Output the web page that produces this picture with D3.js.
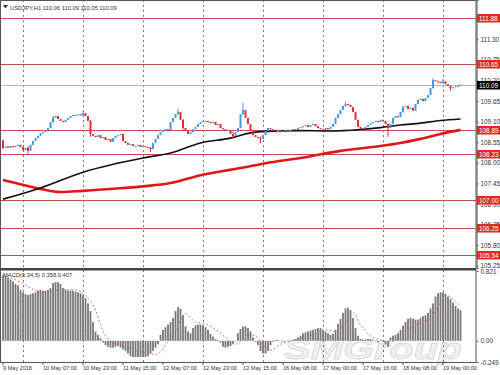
<!DOCTYPE html>
<html>
<head>
<meta charset="utf-8">
<script src="https://cdn.jsdelivr.net/npm/d3@7"></script>
<style>
  body { margin: 0; background: #fff; }
  svg { display: block; font-family: "Liberation Sans", Arial, sans-serif; }
</style>
</head>
<body>
<svg id="chart" width="500" height="375"></svg>
<script>
// USDJPY H1 closes, one per bar (open = previous close)
const firstOpen = 108.60;
const closes = [
  108.40,108.44,108.40,108.45,108.42,108.45,108.48,108.42,108.34,108.40,
  108.32,108.48,108.58,108.66,108.72,108.80,108.82,108.85,108.93,109.09,
  109.20,109.25,109.17,109.12,109.09,109.15,109.20,109.25,109.28,109.28,
  109.30,109.28,109.33,109.25,109.12,108.77,108.72,108.69,108.74,108.66,
  108.69,108.61,108.64,108.56,108.66,108.72,108.74,108.77,108.58,108.53,
  108.48,108.50,108.45,108.45,108.48,108.42,108.45,108.42,108.40,108.37,
  108.53,108.64,108.74,108.82,108.88,108.90,108.88,109.09,109.20,109.30,
  109.36,109.15,108.93,108.85,108.77,108.82,108.90,108.96,109.04,109.09,
  109.12,109.12,109.09,109.06,109.09,109.01,109.04,108.93,108.90,108.85,
  108.88,108.77,108.72,108.82,108.93,109.30,109.41,109.20,109.04,108.85,
  108.74,108.69,108.66,108.64,108.74,108.85,108.93,108.90,108.85,108.82,
  108.88,108.82,108.85,108.88,108.82,108.88,108.90,108.88,108.93,108.96,
  108.98,109.01,108.96,109.01,109.04,108.98,108.93,108.90,108.88,108.93,
  108.90,108.96,109.04,109.20,109.30,109.41,109.52,109.57,109.55,109.49,
  109.36,109.15,108.96,108.90,108.93,108.96,109.01,109.06,109.09,109.12,
  109.09,109.15,109.12,109.04,108.93,109.04,109.20,109.25,109.22,109.36,
  109.49,109.52,109.44,109.47,109.39,109.57,109.68,109.71,109.65,109.73,
  109.81,110.00,110.21,110.18,110.16,110.13,110.18,110.10,110.05,110.00,
  110.02,110.05,110.06,110.09
];

// notable wicks: [bar, high, low]
const wicks = [
  [0,108.62,108.36],[10,108.44,108.24],[20,109.26,109.06],[32,109.38,109.22],
  [35,109.14,108.70],[59,108.42,108.29],[70,109.44,109.28],[72,109.16,108.88],
  [92,108.84,108.64],[96,109.60,109.28],[103,108.70,108.53],[137,109.63,109.50],
  [154,109.06,108.69],[160,109.52,109.34],[172,110.26,109.98],[176,110.24,110.10],
  [179,110.06,109.92]
];

// moving averages: [bar, value]
const maBlack = [
  [0,107.03],[15,107.33],[32,107.75],[56,108.13],[67,108.26],[79,108.53],
  [91,108.66],[99,108.80],[105,108.84],[119,108.86],[131,108.85],[143,108.89],
  [151,108.94],[159,109.01],[167,109.06],[175,109.13],[183,109.17]
];
const maRed = [
  [0,107.54],[7,107.43],[15,107.30],[23,107.22],[32,107.25],[43,107.30],
  [56,107.37],[67,107.46],[79,107.67],[95,107.86],[105,107.99],[119,108.13],
  [135,108.32],[151,108.45],[159,108.53],[167,108.64],[175,108.77],[183,108.88]
];

const levels = [111.88, 110.65, 108.89, 108.23, 107.00, 106.25, 105.54];
const lastPrice = 110.09;
const priceTicks = [105.25,105.80,106.35,106.90,107.45,108.00,108.55,109.10,109.65,110.20,110.75,111.30,111.85];

// MACD histogram, one per bar
const macd = [
  0.77,0.76,0.74,0.72,0.70,0.67,0.65,0.60,0.57,0.55,
  0.54,0.55,0.56,0.57,0.59,0.60,0.59,0.59,0.60,0.62,
  0.68,0.69,0.69,0.67,0.62,0.60,0.59,0.59,0.59,0.58,
  0.57,0.56,0.54,0.50,0.44,0.35,0.22,0.11,0.07,0.03,
  -0.02,-0.05,-0.07,-0.08,-0.08,-0.07,-0.06,-0.08,-0.10,-0.12,
  -0.15,-0.18,-0.19,-0.19,-0.19,-0.19,-0.19,-0.19,-0.18,-0.15,
  -0.12,-0.08,-0.04,0.07,0.13,0.16,0.19,0.22,0.27,0.35,
  0.40,0.38,0.30,0.17,0.11,0.09,0.15,0.18,0.19,0.19,
  0.18,0.16,0.13,0.08,0.05,0.02,0.01,-0.02,-0.07,-0.08,
  -0.07,-0.06,-0.04,0.00,0.09,0.14,0.17,0.17,0.15,0.11,
  0.04,-0.01,-0.05,-0.12,-0.15,-0.15,-0.12,-0.05,-0.01,0.01,
  0.01,0.00,-0.01,0.00,0.00,0.00,0.01,0.02,0.04,0.06,
  0.09,0.10,0.11,0.12,0.13,0.14,0.15,0.15,0.13,0.11,
  0.09,0.07,0.08,0.13,0.20,0.26,0.33,0.38,0.39,0.36,
  0.27,0.15,0.06,0.02,0.01,0.01,0.02,0.02,0.01,0.00,
  -0.02,0.00,0.01,-0.04,-0.07,0.04,0.06,0.07,0.09,0.13,
  0.18,0.22,0.26,0.27,0.26,0.25,0.25,0.27,0.29,0.30,
  0.33,0.38,0.44,0.52,0.56,0.57,0.57,0.55,0.52,0.49,
  0.45,0.41,0.38,0.36
];
// MACD signal: [bar, value]
const signal = [
  [0,0.77],[7,0.69],[11,0.62],[17,0.57],[23,0.60],[29,0.60],[33,0.53],[37,0.36],
  [39,0.19],[41,0.06],[44,-0.02],[49,-0.07],[55,-0.13],[61,-0.16],[63,-0.13],
  [65,-0.05],[69,0.13],[73,0.32],[75,0.27],[77,0.22],[81,0.20],[85,0.13],[89,0.04],
  [93,-0.04],[95,-0.01],[98,0.07],[101,0.06],[104,-0.05],[107,-0.11],[111,-0.04],
  [115,0.00],[119,0.02],[125,0.08],[129,0.13],[133,0.11],[137,0.22],[140,0.33],
  [143,0.19],[147,0.06],[151,0.01],[155,-0.01],[159,0.04],[163,0.15],[167,0.21],
  [171,0.27],[175,0.45],[177,0.54],[181,0.46],[183,0.41]
];
const macdTicks = [0.821, 0, -0.249];
const macdTickLabels = ["0.821", "0.00", "-0.249"];

const timeLabels = ["9 May 2016","10 May 07:00","10 May 23:00","11 May 15:00","12 May 07:00",
  "12 May 23:00","13 May 15:00","16 May 08:00","17 May 00:00","17 May 16:00","18 May 08:00","19 May 00:00"];
const labelStep = 16;
const gridBars = [8, 32, 56, 80, 104, 128, 152, 176];

const W = 500, H = 375;
const plotRight = 476, mainBottom = 268, macdTop = 271, macdBottom = 362;
const axisFont = 6.4, smallFont = 5.8;

const svg = d3.select("#chart");

const x = d3.scaleLinear().domain([0, 184]).range([3, 463]);
const y = d3.scaleLinear().domain([105.19, 112.35]).range([mainBottom, 0]);
const ym = d3.scaleLinear().domain([-0.249, 0.821]).range([macdBottom, macdTop]);

// background
svg.append("rect").attr("width", W).attr("height", H).attr("fill", "#fff");

// watermark
svg.append("text")
  .attr("x", 284).attr("y", 359)
  .attr("font-size", 29).attr("font-style", "italic").attr("font-weight", "bold")
  .attr("textLength", 178).attr("lengthAdjust", "spacingAndGlyphs")
  .attr("fill", "#f0f0f0").attr("stroke", "#dadada").attr("stroke-width", 0.8)
  .text("SMGroup");

// vertical dotted grid
svg.append("g").selectAll("line")
  .data(gridBars)
  .join("line")
  .attr("x1", d => Math.round(x(d)) + 0.5).attr("x2", d => Math.round(x(d)) + 0.5)
  .attr("y1", 0).attr("y2", macdBottom)
  .attr("stroke", "#555").attr("stroke-dasharray", "2,3").attr("stroke-width", 0.8);

// horizontal levels
svg.append("g").selectAll("line")
  .data(levels)
  .join("line")
  .attr("x1", 1).attr("x2", plotRight)
  .attr("y1", d => Math.round(y(d)) + 0.5).attr("y2", d => Math.round(y(d)) + 0.5)
  .attr("stroke", "#c0504a").attr("stroke-width", 1);

svg.append("line")
  .attr("x1", 1).attr("x2", plotRight)
  .attr("y1", Math.round(y(lastPrice)) + 0.5).attr("y2", Math.round(y(lastPrice)) + 0.5)
  .attr("stroke", "#b8b8b8").attr("stroke-width", 1);

// moving averages
const maLine = d3.line().x(d => x(d[0])).y(d => y(d[1])).curve(d3.curveMonotoneX);
svg.append("path").attr("d", maLine(maRed))
  .attr("fill", "none").attr("stroke", "#e01818").attr("stroke-width", 2.6);
svg.append("path").attr("d", maLine(maBlack))
  .attr("fill", "none").attr("stroke", "#111").attr("stroke-width", 1.6);

// candles
const bars = closes.map((c, i) => {
  const o = i === 0 ? firstOpen : closes[i - 1];
  const w = wicks.find(k => k[0] === i);
  return { i, o, c, h: w ? w[1] : Math.max(o, c), l: w ? w[2] : Math.min(o, c) };
});
const colorOf = d => d.c >= d.o ? "#4598e0" : "#dd3030";

const candles = svg.append("g");
candles.selectAll("line")
  .data(bars.filter(d => d.h > Math.max(d.o, d.c) || d.l < Math.min(d.o, d.c)))
  .join("line")
  .attr("x1", d => x(d.i)).attr("x2", d => x(d.i))
  .attr("y1", d => y(d.h)).attr("y2", d => y(d.l))
  .attr("stroke", colorOf).attr("stroke-width", 1);
candles.selectAll("rect")
  .data(bars)
  .join("rect")
  .attr("x", d => x(d.i) - 1)
  .attr("width", 2)
  .attr("y", d => y(Math.max(d.o, d.c)))
  .attr("height", d => Math.max(1.2, Math.abs(y(d.o) - y(d.c))))
  .attr("fill", colorOf);

// MACD histogram
svg.append("g").selectAll("rect")
  .data(macd)
  .join("rect")
  .attr("x", (d, i) => x(i) - 0.9)
  .attr("width", 1.8)
  .attr("y", d => Math.min(ym(d), ym(0)))
  .attr("height", d => Math.max(0.5, Math.abs(ym(d) - ym(0))))
  .attr("fill", "#787878");

svg.append("path")
  .attr("d", d3.line().x(d => x(d[0])).y(d => ym(d[1])).curve(d3.curveMonotoneX)(signal))
  .attr("fill", "none").attr("stroke", "#c87a7a").attr("stroke-width", 1)
  .attr("stroke-dasharray", "2,2");

// frame and panel separator
svg.append("rect")
  .attr("x", 0.5).attr("y", 0.5).attr("width", plotRight - 0.5).attr("height", macdBottom)
  .attr("fill", "none").attr("stroke", "#555");
svg.append("rect")
  .attr("x", 0.5).attr("y", mainBottom).attr("width", plotRight - 0.5).attr("height", 2.5)
  .attr("fill", "#444");

// right price axis
const fmt = d3.format(".2f");
svg.append("g")
  .attr("transform", `translate(${plotRight + 0.5},0)`)
  .call(d3.axisRight(y).tickValues(priceTicks).tickFormat(fmt).tickSize(2).tickPadding(2))
  .call(g => g.select(".domain").attr("stroke", "#555"))
  .call(g => g.selectAll("line").attr("stroke", "#555"))
  .call(g => g.selectAll("text").attr("font-size", axisFont).attr("fill", "#333")
    .attr("font-family", "Liberation Sans, Arial, sans-serif"));

// level labels
const tags = svg.append("g");
const tagData = levels.map(v => ({ v, bg: "#e42a20" })).concat([{ v: lastPrice, bg: "#000" }]);
tags.selectAll("rect")
  .data(tagData)
  .join("rect")
  .attr("x", plotRight + 1).attr("width", W - plotRight - 1)
  .attr("y", d => Math.round(y(d.v)) - 4).attr("height", 8.5)
  .attr("fill", d => d.bg);
tags.selectAll("text")
  .data(tagData)
  .join("text")
  .attr("x", plotRight + 3).attr("y", d => Math.round(y(d.v)) + 2.5)
  .attr("font-size", axisFont).attr("fill", "#fff")
  .text(d => fmt(d.v));

// right MACD axis
svg.append("g")
  .attr("transform", `translate(${plotRight + 0.5},0)`)
  .call(d3.axisRight(ym).tickValues(macdTicks).tickFormat((d, i) => macdTickLabels[i]).tickSize(2).tickPadding(2))
  .call(g => g.select(".domain").remove())
  .call(g => g.selectAll("line").attr("stroke", "#555"))
  .call(g => g.selectAll("text").attr("font-size", axisFont).attr("fill", "#333")
    .attr("font-family", "Liberation Sans, Arial, sans-serif"));

// bottom time labels
const xl = svg.append("g");
xl.selectAll("line")
  .data(timeLabels)
  .join("line")
  .attr("x1", (d, i) => x(i * labelStep)).attr("x2", (d, i) => x(i * labelStep))
  .attr("y1", macdBottom).attr("y2", macdBottom + 3)
  .attr("stroke", "#555");
xl.selectAll("text")
  .data(timeLabels)
  .join("text")
  .attr("x", (d, i) => x(i * labelStep)).attr("y", 370)
  .attr("font-size", 5.6).attr("fill", "#333")
  .text(d => d);

// titles
svg.append("path").attr("d", "M3,5 L8,5 L5.5,8.5 Z").attr("fill", "#333");
svg.append("text").attr("x", 10).attr("y", 9.5)
  .attr("font-size", smallFont).attr("fill", "#333")
  .text("USDJPY,H1  110.06 110.09 110.05 110.09");
svg.append("text").attr("x", 3).attr("y", 277)
  .attr("font-size", smallFont).attr("fill", "#333")
  .text("MACD(6,34,5) 0.358 0.407");
</script>
</body>
</html>
